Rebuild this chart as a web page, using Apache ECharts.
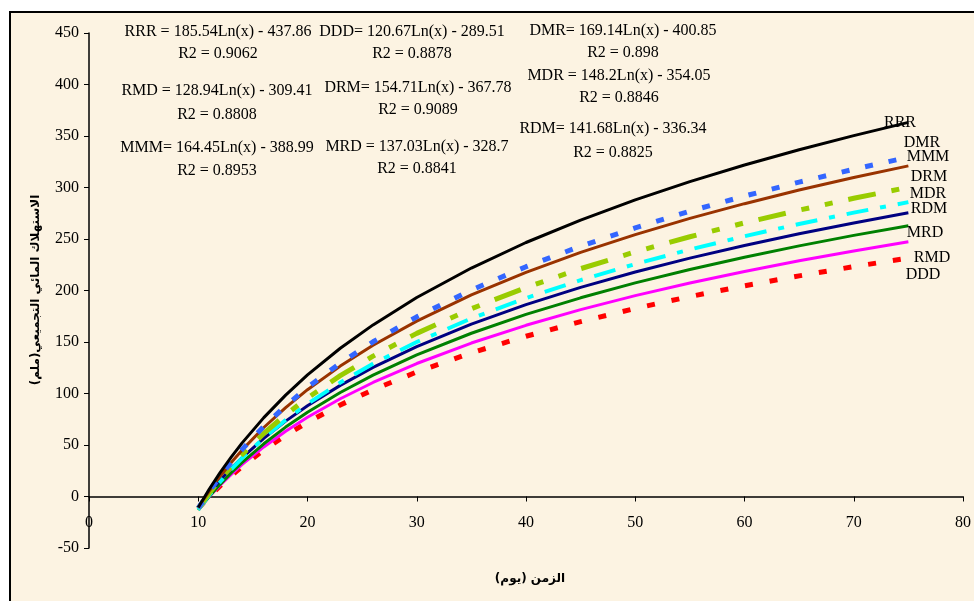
<!DOCTYPE html>
<html>
<head>
<meta charset="utf-8">
<script src="https://cdn.jsdelivr.net/npm/echarts@6/dist/echarts.min.js"></script>
<style>
  html, body { margin: 0; padding: 0; background: #fff; }
  #chart { width: 974px; height: 601px; }
</style>
</head>
<body>
<div id="chart"></div>
<script>
// days (x) shared by all series
const days = [10, 11, 12, 13, 14, 16, 18, 20, 23, 26, 30, 35, 40, 45, 50, 55, 60, 65, 70, 75];

// cumulative consumption (mm)
const RRR = [-10.6, 7.0, 23.2, 38.0, 51.8, 76.6, 98.4, 118.0, 143.9, 166.6, 193.2, 221.8, 246.6, 268.4, 288.0, 305.7, 321.8, 336.7, 350.4, 363.2];
const DMR = [-11.4, 4.7, 19.4, 33.0, 45.5, 68.1, 88.0, 105.9, 129.5, 150.2, 174.4, 200.5, 223.1, 243.0, 260.8, 277.0, 291.7, 305.2, 317.7, 329.4];
const MMM = [-10.3, 5.3, 19.7, 32.8, 45.0, 67.0, 86.3, 103.7, 126.6, 146.8, 170.3, 195.7, 217.6, 237.0, 254.3, 270.0, 284.3, 297.5, 309.7, 321.0];
const DRM = [-11.5, 3.2, 16.7, 29.0, 40.5, 61.2, 79.4, 95.7, 117.3, 136.3, 158.4, 182.3, 202.9, 221.2, 237.5, 252.2, 265.7, 278.0, 289.5, 300.2];
const MDR = [-12.8, 1.3, 14.2, 26.1, 37.1, 56.8, 74.3, 89.9, 110.6, 128.8, 150.0, 172.9, 192.6, 210.1, 225.7, 239.8, 252.7, 264.6, 275.6, 285.8];
const RDM = [-10.1, 3.4, 15.7, 27.1, 37.6, 56.5, 73.2, 88.1, 107.9, 125.3, 145.5, 167.4, 186.3, 203.0, 217.9, 231.4, 243.7, 255.1, 265.6, 275.4];
const MRD = [-13.2, -0.1, 11.8, 22.8, 32.9, 51.2, 67.4, 81.8, 101.0, 117.8, 137.4, 158.5, 176.8, 192.9, 207.4, 220.4, 232.3, 243.3, 253.5, 262.9];
const RMD = [-12.5, -0.2, 11.0, 21.3, 30.9, 48.1, 63.3, 76.9, 94.9, 110.7, 129.1, 149.0, 166.2, 181.4, 195.0, 207.3, 218.5, 228.8, 238.4, 247.3];
const DDD = [-11.7, -0.2, 10.3, 20.0, 29.0, 45.1, 59.3, 72.0, 88.9, 103.6, 120.9, 139.5, 155.6, 169.8, 182.6, 194.1, 204.6, 214.2, 223.2, 231.5];

// trendline equations shown on the chart
const equations = [
  ["RRR = 185.54Ln(x) - 437.86", "R2 = 0.9062"],
  ["DDD= 120.67Ln(x) - 289.51", "R2 = 0.8878"],
  ["DMR= 169.14Ln(x) - 400.85", "R2 = 0.898"],
  ["RMD = 128.94Ln(x) - 309.41", "R2 = 0.8808"],
  ["DRM= 154.71Ln(x) - 367.78", "R2 = 0.9089"],
  ["MDR = 148.2Ln(x) - 354.05", "R2 = 0.8846"],
  ["MMM= 164.45Ln(x) - 388.99", "R2 = 0.8953"],
  ["MRD = 137.03Ln(x) - 328.7", "R2 = 0.8841"],
  ["RDM= 141.68Ln(x) - 336.34", "R2 = 0.8825"]
];
const eqPos = [[218, 32, 54], [412, 32, 54], [623, 31, 53], [217, 91, 115], [418, 88, 110], [619, 76, 98], [217, 148, 171], [417, 147, 169], [613, 129, 153]];

const seriesNames = ["RRR", "DMR", "MMM", "DRM", "MDR", "RDM", "MRD", "RMD", "DDD"];
const seriesVals = [RRR, DMR, MMM, DRM, MDR, RDM, MRD, RMD, DDD];
const seriesStyle = [
  { color: "#000000", width: 3, type: "solid" },
  { color: "#3366FF", width: 5, type: [8, 16] },
  { color: "#993300", width: 3, type: "solid" },
  { color: "#99CC00", width: 5, type: [28, 16, 8, 16, 8, 16] },
  { color: "#00FFFF", width: 4, type: [22, 12, 6, 12] },
  { color: "#000080", width: 3, type: "solid" },
  { color: "#008000", width: 3, type: "solid" },
  { color: "#FF00FF", width: 3, type: "solid" },
  { color: "#FF0000", width: 5, type: [8, 17] }
];
const endLabelPos = [[900, 123], [922, 143], [928, 157], [929, 177], [928, 194], [929, 209], [925, 233], [932, 258], [923, 275]];

const serif = '"Liberation Serif", "Times New Roman", serif';

let series = seriesNames.map((name, i) => ({
  name: name,
  type: "line",
  showSymbol: false,
  silent: true,
  data: days.map((d, j) => [d, seriesVals[i][j]]),
  lineStyle: { color: seriesStyle[i].color, width: seriesStyle[i].width, type: seriesStyle[i].type, cap: "butt" },
  z: 10 - i
}));

let graphics = [
  { type: "rect", z: -10, shape: { x: 10, y: 12, width: 1000, height: 640 },
    style: { fill: "#FCF3E2", stroke: "#000", lineWidth: 2 } }
];
equations.forEach((eq, i) => {
  graphics.push({ type: "text", x: eqPos[i][0], y: eqPos[i][1],
    style: { text: eq[0], font: "16px " + serif, fill: "#000", textAlign: "center", textVerticalAlign: "middle" } });
  graphics.push({ type: "text", x: eqPos[i][0], y: eqPos[i][2],
    style: { text: eq[1], font: "16px " + serif, fill: "#000", textAlign: "center", textVerticalAlign: "middle" } });
});
seriesNames.forEach((name, i) => {
  graphics.push({ type: "text", z: 50, x: endLabelPos[i][0], y: endLabelPos[i][1],
    style: { text: name, font: "16px " + serif, fill: "#000", textAlign: "center", textVerticalAlign: "middle" } });
});
// axis titles
graphics.push({ type: "text", x: 530, y: 579,
  style: { text: "الزمن (يوم)", font: "bold 12px 'DejaVu Sans'", fill: "#000", textAlign: "center", textVerticalAlign: "middle" } });
graphics.push({ type: "text", x: 36, y: 290, rotation: Math.PI / 2,
  style: { text: "الاستهلاك المائي التجميعي(ملم)", font: "bold 12px 'DejaVu Sans'", fill: "#000", textAlign: "center", textVerticalAlign: "middle" } });

let chart = echarts.init(document.getElementById("chart"));
chart.setOption({
  backgroundColor: "#ffffff",
  animation: false,
  grid: { left: 89, right: 7, top: 33, bottom: 53, containLabel: false },
  xAxis: {
    type: "value", min: 0, max: 80, interval: 10,
    axisLine: { onZero: true, lineStyle: { color: "#000", width: 1.5 } },
    axisTick: { show: true, length: 5, lineStyle: { color: "#000" } },
    axisLabel: { margin: -33, color: "#000", fontFamily: serif, fontSize: 16, hideOverlap: false },
    splitLine: { show: false }
  },
  yAxis: {
    type: "value", min: -50, max: 450, interval: 50,
    axisLine: { show: true, onZero: false, lineStyle: { color: "#000", width: 1.5 } },
    axisTick: { show: true, length: 5, lineStyle: { color: "#000" } },
    axisLabel: { margin: 10, color: "#000", fontFamily: serif, fontSize: 16 },
    splitLine: { show: false }
  },
  graphic: graphics,
  series: series
});
</script>
</body>
</html>
